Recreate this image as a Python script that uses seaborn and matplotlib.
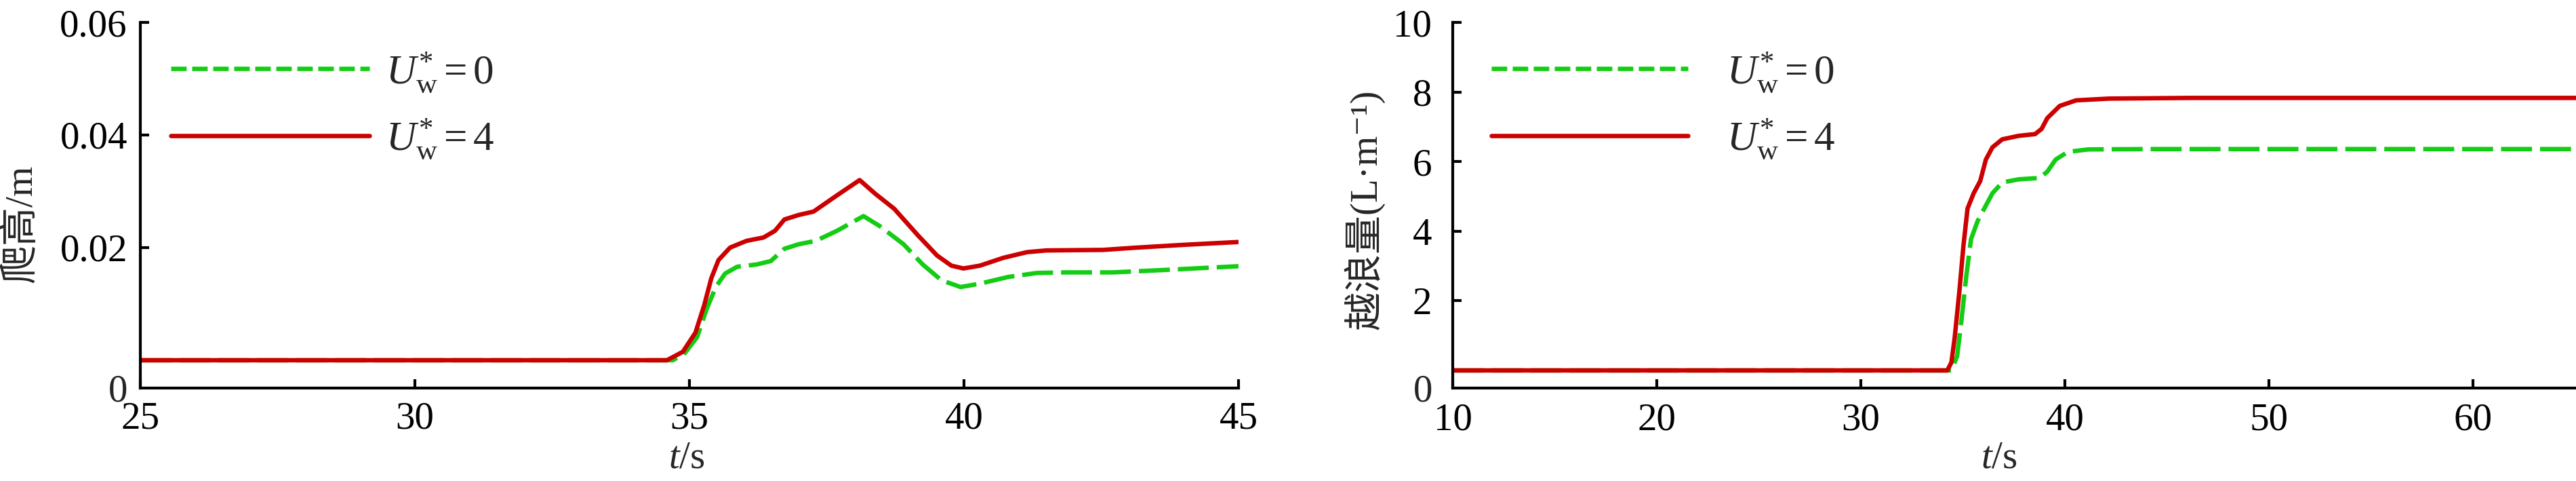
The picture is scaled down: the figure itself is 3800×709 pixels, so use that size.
import matplotlib
matplotlib.use('Agg')
import matplotlib.pyplot as plt
import seaborn as sns
import pandas as pd
from matplotlib.lines import Line2D

# left panel: run-up (爬高, m)
t_runup_u0 = [25.0, 34.70, 34.92, 35.14, 35.31, 35.48, 35.65, 35.87, 36.22, 36.48, 36.73, 36.99,
              37.30, 37.69, 38.17, 38.47, 38.90, 39.25, 39.59, 39.94, 40.29, 40.81, 41.33, 41.85,
              42.71, 43.58, 45.0]
runup_u0 = [0.0, 0.0, 0.0013, 0.0041, 0.0090, 0.0130, 0.0154, 0.0166, 0.0170, 0.0176, 0.0198, 0.0206,
            0.0212, 0.0230, 0.0256, 0.0238, 0.0206, 0.0170, 0.0142, 0.0130, 0.0136, 0.0148, 0.0155, 0.0156,
            0.0156, 0.0160, 0.0167]
t_runup_u4 = [25.0, 34.59, 34.88, 35.11, 35.27, 35.40, 35.53, 35.74, 36.04, 36.35, 36.56, 36.73, 36.99,
              37.26, 37.69, 38.10, 38.38, 38.73, 39.16, 39.51, 39.77, 39.99, 40.29, 40.72, 41.15, 41.50,
              42.54, 43.14, 44.01, 45.0]
runup_u4 = [0.0, 0.0, 0.0015, 0.0049, 0.0098, 0.0146, 0.0178, 0.0200, 0.0212, 0.0218, 0.0230, 0.0250, 0.0258,
            0.0264, 0.0293, 0.0320, 0.0296, 0.0269, 0.0222, 0.0186, 0.0168, 0.0163, 0.0168, 0.0182, 0.0192, 0.0195,
            0.0196, 0.0200, 0.0205, 0.0210]

# right panel: overtopping volume (越浪量, L/m)
t_over_u0 = [10.0, 34.44, 34.72, 34.92, 35.17, 35.40, 35.73, 36.05, 36.45, 36.93, 37.73, 38.75, 39.14,
             39.55, 40.15, 41.15, 44.16, 65.05]
over_u0 = [0.0, 0.0, 0.41, 1.38, 2.71, 3.77, 4.30, 4.65, 5.09, 5.40, 5.49, 5.53, 5.71,
           6.06, 6.28, 6.35, 6.36, 6.36]
t_over_u4 = [10.0, 34.24, 34.44, 34.60, 34.83, 35.03, 35.23, 35.53, 35.85, 36.13, 36.45, 36.93, 37.73,
             38.54, 38.86, 39.14, 39.75, 40.55, 42.16, 46.19, 65.05]
over_u4 = [0.0, 0.0, 0.23, 0.94, 2.27, 3.59, 4.65, 5.09, 5.44, 6.06, 6.41, 6.64, 6.74,
           6.79, 6.94, 7.25, 7.60, 7.76, 7.81, 7.83, 7.83]

labels = [r'$U_{\mathrm{w}}^{*}=0$', r'$U_{\mathrm{w}}^{*}=4$']
green = '#14CC14'
red = '#CC0000'

sns.set_theme(style='ticks')
plt.rcParams['font.family'] = ['Liberation Serif', 'Noto Sans CJK SC', 'DejaVu Sans']
plt.rcParams['mathtext.fontset'] = 'custom'
plt.rcParams['mathtext.rm'] = 'Liberation Serif'
plt.rcParams['mathtext.it'] = 'Liberation Serif:italic'
plt.rcParams['mathtext.bf'] = 'Liberation Serif:bold'

FS = 41
LEG_FS = 44
LW = 4.7

fig = plt.figure(figsize=(38, 7.09), dpi=100)
ax1 = fig.add_axes([207 / 3800, 137 / 709, 1620 / 3800, 539 / 709])
ax2 = fig.add_axes([2143 / 3800, 137 / 709, 1657 / 3800, 539 / 709])

df1a = pd.DataFrame({'t': t_runup_u0, 'v': runup_u0})
df1b = pd.DataFrame({'t': t_runup_u4, 'v': runup_u4})
df2a = pd.DataFrame({'t': t_over_u0, 'v': over_u0})
df2b = pd.DataFrame({'t': t_over_u4, 'v': over_u4})

for ax, da, db in [(ax1, df1a, df1b), (ax2, df2a, df2b)]:
    sns.lineplot(data=da, x='t', y='v', ax=ax, color=green, linewidth=LW,
                 linestyle=(0, (7, 1.8)), sort=False)
    sns.lineplot(data=db, x='t', y='v', ax=ax, color=red, linewidth=LW, sort=False)
    for s in ['top', 'right']:
        ax.spines[s].set_visible(False)
    for s in ['left', 'bottom']:
        ax.spines[s].set_linewidth(3)
        ax.spines[s].set_color('black')
    ax.tick_params(direction='in', length=9.4, width=3, colors='black', labelsize=FS)

ax1.set_xlim(25, 45)
ax1.set_ylim(-0.00494, 0.06)
ax1.set_xticks([25, 30, 35, 40, 45])
ax1.set_yticks([0, 0.02, 0.04, 0.06])
ax1.set_yticklabels(['', '0.02', '0.04', '0.06'])
ax1.tick_params(axis='y', pad=13.7)
ax1.tick_params(axis='x', pad=14.4)

ax2.set_xlim(10, 65.05)
ax2.set_ylim(-0.507, 10)
ax2.set_xticks([10, 20, 30, 40, 50, 60])
ax2.set_yticks([0, 2, 4, 6, 8, 10])
ax2.set_yticklabels(['', '2', '4', '6', '8', '10'])
ax2.tick_params(axis='y', pad=22.3)
ax2.tick_params(axis='x', pad=15.8)

# corner "0" labels
ax1.annotate('0', xy=(0, 0), xycoords='axes fraction', xytext=(-13.7, -4.3),
             textcoords='offset points', ha='right', va='center', fontsize=FS)
ax2.annotate('0', xy=(0, 0), xycoords='axes fraction', xytext=(-21.5, -3.6),
             textcoords='offset points', ha='right', va='center', fontsize=FS)

ax1.set_xlabel(r'$t$/s', fontsize=FS)
ax2.set_xlabel(r'$t$/s', fontsize=FS)
ax1.xaxis.set_label_coords(0.4975, -0.143)
ax2.xaxis.set_label_coords(0.4864, -0.143)
ax1.xaxis.label.set_va('top')
ax2.xaxis.label.set_va('top')

ax1.set_ylabel('爬高/m', fontsize=FS)
ax2.set_ylabel('越浪量(L·m⁻¹)', fontsize=FS)
ax1.yaxis.set_label_coords(-0.092, 0.449)
ax2.yaxis.set_label_coords(-0.0604, 0.488)

handles = [Line2D([], [], color=green, lw=LW, linestyle=(0, (3.5, 1.25))),
           Line2D([], [], color=red, lw=LW)]
ax1.legend(handles, labels, loc='upper left', bbox_to_anchor=(0.0278, 0.924), frameon=False,
           fontsize=LEG_FS, handlelength=4.8, handletextpad=0.39, labelspacing=0.55,
           borderpad=0, borderaxespad=0)
ax2.legend(handles, labels, loc='upper left', bbox_to_anchor=(0.0344, 0.924), frameon=False,
           fontsize=LEG_FS, handlelength=4.75, handletextpad=0.92, labelspacing=0.55,
           borderpad=0, borderaxespad=0)

fig.savefig('out.png', dpi=100)
